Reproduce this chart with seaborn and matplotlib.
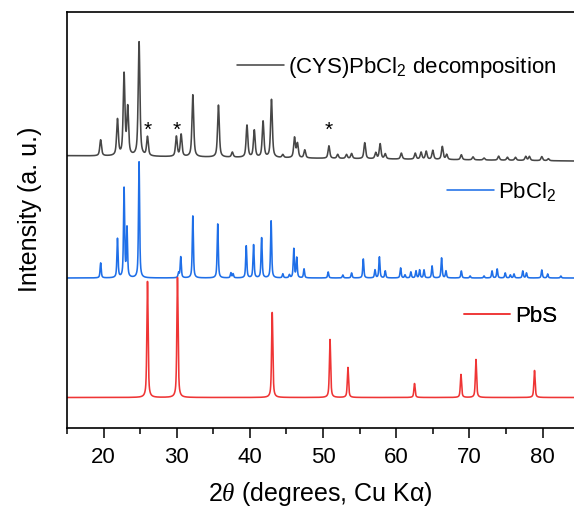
import numpy as np
import pandas as pd
import matplotlib
matplotlib.use("Agg")
import matplotlib.pyplot as plt
import seaborn as sns
from matplotlib.lines import Line2D
from matplotlib.ticker import MultipleLocator

# ---------------- data ----------------
two_theta_min, two_theta_max = 15.0, 84.3

# PbS reference pattern (red)
pbs_pos = [26.0, 30.1, 43.05, 50.95, 53.4, 62.5, 68.85, 70.9, 78.9]
pbs_int = [116, 120, 85, 58, 30, 14, 23, 38, 27]
pbs_baseline = 30.5

# PbCl2 reference pattern (blue)
pbcl2_pos = [19.6, 21.9, 22.8, 23.2, 24.85, 30.25, 30.55, 32.2, 35.6, 37.4, 37.7,
             39.5, 40.5, 41.6, 42.9, 44.5, 45.4, 46.0, 46.4, 47.4, 50.7, 52.7,
             53.9, 55.5, 57.1, 57.7, 58.5, 60.6, 61.2, 62.0, 62.7, 63.2, 63.8,
             64.9, 66.2, 66.8, 68.9, 70.1, 72.0, 73.1, 73.8, 74.9, 75.6, 76.1,
             77.3, 77.8, 79.9, 80.7, 82.5]
pbcl2_int = [15, 39, 89, 49, 116, 5, 21, 62, 54, 5, 4,
             32, 33, 40, 57, 4, 3, 29, 20, 9, 6, 3,
             5, 19, 8, 21, 7, 10, 3, 6, 7, 8, 8,
             12, 20, 7, 7, 2, 2, 7, 9, 5, 3, 4,
             7, 5, 8, 4, 2]
pbcl2_baseline = 150.0

# (CYS)PbCl2 decomposition product (grey)
cys_pos = [19.6, 21.9, 22.8, 23.3, 24.85, 26.0, 29.95, 30.6, 32.2, 35.7, 37.6,
           39.6, 40.6, 41.8, 42.95, 44.5, 46.1, 46.5, 47.5, 50.8, 52.0, 53.2,
           53.9, 55.7, 57.2, 57.8, 58.5, 60.7, 62.6, 63.4, 64.1, 65.0, 66.3,
           66.9, 68.9, 70.5, 72.0, 74.0, 75.2, 76.3, 77.7, 78.2, 79.9, 80.8]
cys_int = [16, 36, 81, 47, 114, 19, 20, 22, 62, 52, 5,
           32, 27, 36, 58, 3, 20, 14, 8, 12.5, 4, 4,
           5, 16, 6, 15, 5, 6, 6, 7, 8, 9, 13,
           5, 5, 3, 2, 4, 3, 3, 4, 4, 4, 2]
cys_baseline_start, cys_baseline_end = 272.3, 267.0

star_pos = [26.0, 29.95, 50.8]
star_level = 292

series_names = ["(CYS)PbCl$_2$ decomposition", "PbCl$_2$", "PbS"]
series_colors = ["#474747", "#1f6fe8", "#ef3535"]
peak_fwhm = [0.28, 0.18, 0.2]


def pattern(x, pos, amp, fwhm, eta=0.65):
    y = np.zeros_like(x)
    for p, a in zip(pos, amp):
        d = (x - p) / (fwhm / 2.0)
        lor = 1.0 / (1.0 + d ** 2)
        gau = np.exp(-np.log(2) * d ** 2)
        y += a * (eta * lor + (1 - eta) * gau)
    return y


x = np.arange(two_theta_min, two_theta_max + 0.005, 0.01)
cys_base = np.linspace(cys_baseline_start, cys_baseline_end, x.size)
y_cys = cys_base + pattern(x, cys_pos, cys_int, peak_fwhm[0])
y_pbcl2 = pbcl2_baseline + pattern(x, pbcl2_pos, pbcl2_int, peak_fwhm[1])
y_pbs = pbs_baseline + pattern(x, pbs_pos, pbs_int, peak_fwhm[2])

df = pd.concat([
    pd.DataFrame({"tt": x, "I": y_cys, "series": series_names[0]}),
    pd.DataFrame({"tt": x, "I": y_pbcl2, "series": series_names[1]}),
    pd.DataFrame({"tt": x, "I": y_pbs, "series": series_names[2]}),
], ignore_index=True)

# ---------------- figure ----------------
sns.set_style("ticks")
plt.rcParams["font.family"] = ["Liberation Sans", "DejaVu Sans"]
plt.rcParams["mathtext.fontset"] = "custom"
plt.rcParams["mathtext.rm"] = "Liberation Sans"
plt.rcParams["mathtext.it"] = "Liberation Serif:italic"
plt.rcParams["text.color"] = "black"
plt.rcParams["axes.labelcolor"] = "black"
plt.rcParams["xtick.color"] = "black"
plt.rcParams["xtick.labelcolor"] = "black"

fig = plt.figure(figsize=(5.74, 5.12), dpi=100)
W, H = 574, 512
ax = fig.add_axes([67 / W, (H - 428) / H, (W - 67) / W, (428 - 12) / H])

sns.lineplot(data=df, x="tt", y="I", hue="series", hue_order=series_names,
             palette=dict(zip(series_names, series_colors)), estimator=None,
             sort=False, linewidth=1.15, legend=False, ax=ax)

ax.set_xlim(two_theta_min, two_theta_max)
ax.set_ylim(0, 416)
ax.set_yticks([])
ax.xaxis.set_major_locator(MultipleLocator(10))
ax.xaxis.set_minor_locator(MultipleLocator(5))
ax.tick_params(axis="x", which="major", direction="out", length=7, width=1.1,
               labelsize=16, pad=7, colors="black")
ax.tick_params(axis="x", which="minor", direction="out", length=4.5, width=1.1,
               colors="black")
for s in ["left", "top", "bottom"]:
    ax.spines[s].set_linewidth(1.2)
    ax.spines[s].set_color("black")
ax.spines["right"].set_visible(False)

ax.set_xlabel("2$\\mathit{\\theta}$ (degrees, Cu K\u03b1)", fontsize=18, labelpad=8,
              color="black")
ax.set_ylabel("Intensity (a. u.)", fontsize=18, color="black")
ax.yaxis.set_label_coords(-0.05, 0.525)

# stars marking PbS reflections in the decomposition pattern
for sp in star_pos:
    ax.text(sp, star_level, "*", ha="center", va="baseline", fontsize=15,
            color="black")

# separate legend entries
leg_y = [0.867, 0.569, 0.269]
for name, col, yy in zip(series_names, series_colors, leg_y):
    h = Line2D([], [], color=col, linewidth=1.15)
    leg = ax.legend([h], [name], loc="center right", bbox_to_anchor=(0.966, yy),
                    frameon=False, fontsize=16, handlelength=2.1,
                    handletextpad=0.2, borderpad=0, borderaxespad=0,
                    labelcolor="black")
    ax.add_artist(leg)

fig.savefig("out.png", dpi=100)
